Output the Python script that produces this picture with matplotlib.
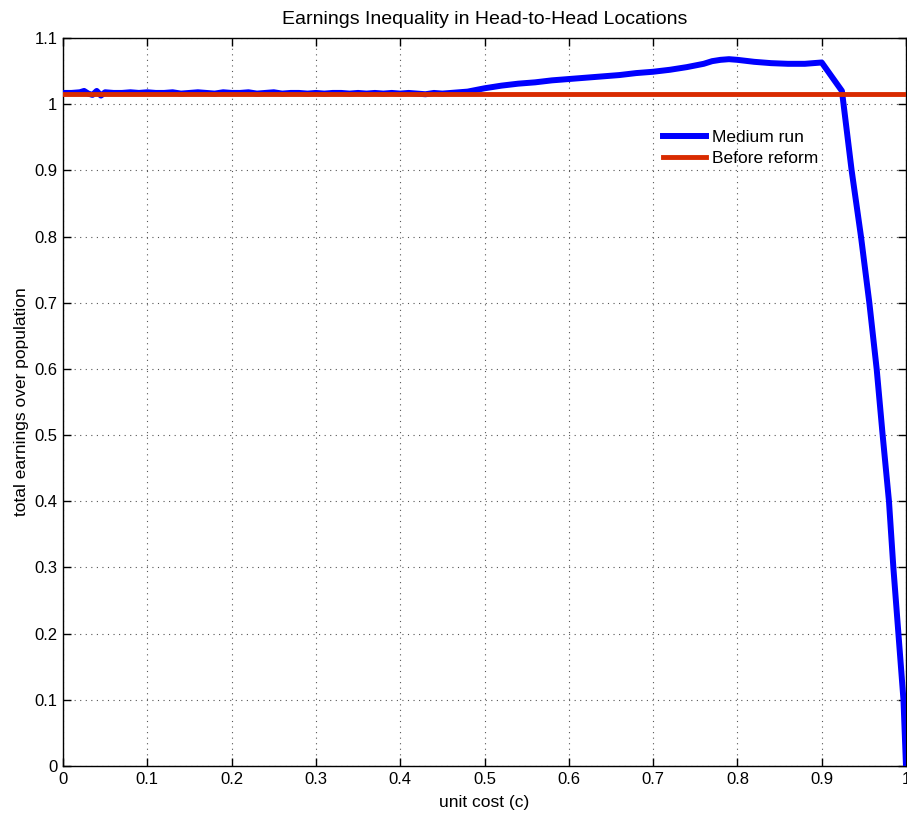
import matplotlib
matplotlib.use("Agg")
import matplotlib.pyplot as plt
import numpy as np

plt.rcParams['font.family'] = ['Liberation Sans', 'DejaVu Sans']

# Medium run: unit cost (x) and total earnings over population (y)
medium_x = [0.00, 0.01, 0.02, 0.025, 0.03, 0.035, 0.04, 0.045, 0.05, 0.06, 0.07, 0.08, 0.09,
            0.10, 0.11, 0.12, 0.13, 0.14, 0.15, 0.16, 0.17, 0.18, 0.19, 0.20, 0.21, 0.22,
            0.23, 0.24, 0.25, 0.26, 0.27, 0.28, 0.29, 0.30, 0.31, 0.32, 0.33, 0.34, 0.35,
            0.36, 0.37, 0.38, 0.39, 0.40, 0.41, 0.42, 0.43, 0.44, 0.45, 0.46,
            0.48, 0.50, 0.52, 0.54, 0.56, 0.58, 0.60, 0.62, 0.64, 0.66, 0.68, 0.70,
            0.72, 0.74, 0.76, 0.77, 0.78, 0.79, 0.80, 0.82, 0.84, 0.86, 0.88, 0.90,
            0.924, 0.9355, 0.9466, 0.9565, 0.9652, 0.9723, 0.9798, 0.985, 0.991, 0.997, 1.00]
medium_y = [1.017, 1.017, 1.018, 1.020, 1.016, 1.014, 1.020, 1.013, 1.018, 1.017, 1.017, 1.018, 1.017,
            1.018, 1.017, 1.017, 1.018, 1.016, 1.017, 1.018, 1.017, 1.016, 1.018, 1.017, 1.017, 1.018,
            1.016, 1.017, 1.018, 1.016, 1.017, 1.017, 1.016, 1.017, 1.016, 1.017, 1.017, 1.016, 1.017,
            1.016, 1.017, 1.016, 1.017, 1.016, 1.017, 1.016, 1.015, 1.017, 1.016, 1.017,
            1.019, 1.024, 1.028, 1.031, 1.033, 1.036, 1.038, 1.040, 1.042, 1.044, 1.047, 1.049,
            1.052, 1.056, 1.061, 1.065, 1.067, 1.068, 1.067, 1.064, 1.062, 1.061, 1.061, 1.063,
            1.020, 0.900, 0.800, 0.700, 0.600, 0.500, 0.400, 0.300, 0.200, 0.100, 0.000]

# Before reform: constant level
before_x = [0.0, 1.0]
before_y = [1.0155, 1.0155]

x_ticks = [0, 0.1, 0.2, 0.3, 0.4, 0.5, 0.6, 0.7, 0.8, 0.9, 1]
x_labels = ["0", "0.1", "0.2", "0.3", "0.4", "0.5", "0.6", "0.7", "0.8", "0.9", "1"]
y_ticks = [0, 0.1, 0.2, 0.3, 0.4, 0.5, 0.6, 0.7, 0.8, 0.9, 1, 1.1]
y_labels = ["0", "0.1", "0.2", "0.3", "0.4", "0.5", "0.6", "0.7", "0.8", "0.9", "1", "1.1"]

fig = plt.figure(figsize=(9.07, 8.14), dpi=100)
ax = fig.add_axes([63 / 907, 48 / 814, 843 / 907, 728 / 814])

ax.plot(medium_x, medium_y, color='#0000ff', lw=4.3, label='Medium run', zorder=3,
        solid_joinstyle='round')
ax.plot(before_x, before_y, color='#d92b00', lw=3.5, label='Before reform', zorder=4)

ax.set_xlim(0, 1)
ax.set_ylim(0, 1.1)
ax.set_xticks(x_ticks)
ax.set_xticklabels(x_labels)
ax.set_yticks(y_ticks)
ax.set_yticklabels(y_labels)
ax.tick_params(direction='in', top=True, right=True, length=6, width=1,
               labelsize=12, pad=4)
ax.grid(True, linestyle=(0, (1, 4)), color='#555555', linewidth=0.8)
for s in ax.spines.values():
    s.set_linewidth(1.0)

ax.set_title('Earnings Inequality in Head-to-Head Locations', fontsize=14, pad=10)
ax.set_xlabel('unit cost (c)', fontsize=12.5, labelpad=6)
ax.set_ylabel('total earnings over population', fontsize=12.5, labelpad=4)

leg = ax.legend(loc='upper left', bbox_to_anchor=(0.7117, 0.8735), frameon=False,
                fontsize=12.5, handlelength=2.5, handletextpad=0.3, labelspacing=0.3,
                borderpad=0, borderaxespad=0)

fig.savefig('out.png', dpi=100)
